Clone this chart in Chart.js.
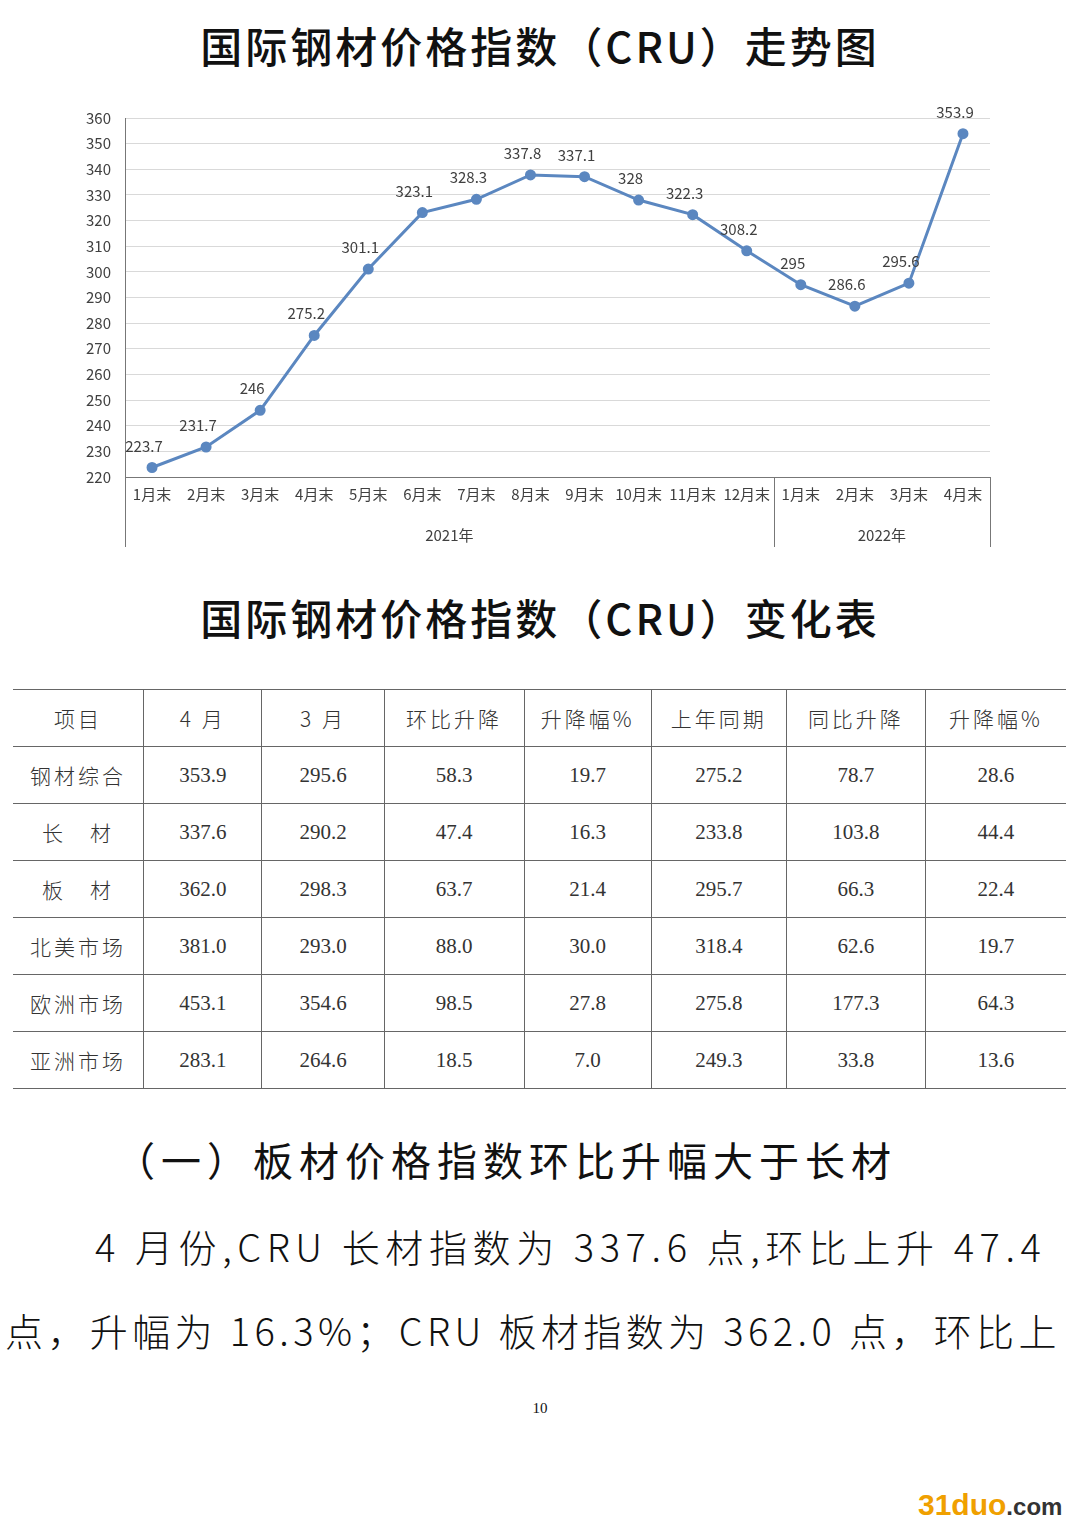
<!DOCTYPE html>
<html><head><meta charset="utf-8">
<script src="https://cdn.jsdelivr.net/npm/chart.js@4/dist/chart.umd.min.js"></script>
<style>
body{margin:0;width:1080px;height:1526px;background:#fff;position:relative;overflow:hidden;font-family:"Noto Sans CJK SC",sans-serif;color:#111}
.t{position:absolute;left:0;width:1080px;text-align:center;font-size:42px;font-weight:500;letter-spacing:3px}
#wrap{position:absolute;left:60px;top:95px;width:940px;height:460px}
table{position:absolute;left:13px;top:689px;width:1053px;border-collapse:collapse;font-size:21px;color:#333}
td{border:1.5px solid #666;height:56px;padding:0;text-align:center;font-family:"Liberation Serif","Noto Sans CJK SC",serif;font-weight:300}
td.c{font-family:"Noto Sans CJK SC";font-weight:300;letter-spacing:3px}
tr td:first-child{border-left:none}
tr td:last-child{border-right:none}
.p{position:absolute;font-size:38px;font-weight:300;white-space:nowrap;letter-spacing:5px}
</style></head><body>
<div class="t" style="top:14px">国际钢材价格指数（CRU）走势图</div>
<div id="wrap"><canvas id="c"></canvas></div>
<div class="t" style="top:586px">国际钢材价格指数（CRU）变化表</div>
<table id="tb"></table>
<div class="p" style="left:115px;top:1130px;font-weight:400;font-size:40px;letter-spacing:6px">（一）板材价格指数环比升幅大于长材</div>
<div class="p" style="left:95px;top:1218px;letter-spacing:5.6px">4 月份,CRU 长材指数为 337.6 点,环比上升 47.4</div>
<div class="p" style="left:5px;top:1302px;letter-spacing:4.4px">点，升幅为 16.3%；CRU 板材指数为 362.0 点，环比上</div>
<div style="position:absolute;left:0;width:1080px;top:1400px;text-align:center;font-size:15px;font-family:'Liberation Serif'">10</div>
<div style="position:absolute;left:918px;top:1488px;font:bold 30px 'Liberation Sans';color:#f0a000">31duo<span style="color:#333;font-size:24px">.com</span></div>
<script>
const months = ['1月末','2月末','3月末','4月末','5月末','6月末','7月末','8月末','9月末','10月末','11月末','12月末','1月末','2月末','3月末','4月末'];
const values = [223.7,231.7,246,275.2,301.1,323.1,328.3,337.8,337.1,328,322.3,308.2,295,286.6,295.6,353.9];
const years = [{label:'2021年',from:0,to:11},{label:'2022年',from:12,to:15}];
const yTicks = [220,360,10];

const headers = ['项目','4 月','3 月','环比升降','升降幅%','上年同期','同比升降','升降幅%'];
const rowNames = ['钢材综合','长　材','板　材','北美市场','欧洲市场','亚洲市场'];
const col4 = [353.9,337.6,362.0,381.0,453.1,283.1];
const col3 = [295.6,290.2,298.3,293.0,354.6,264.6];
const momChg = [58.3,47.4,63.7,88.0,98.5,18.5];
const momPct = [19.7,16.3,21.4,30.0,27.8,7.0];
const lastYear = [275.2,233.8,295.7,318.4,275.8,249.3];
const yoyChg = [78.7,103.8,66.3,62.6,177.3,33.8];
const yoyPct = [28.6,44.4,22.4,19.7,64.3,13.6];
const widths = [131,118,122,140,127,135,139,141];

const tb = document.getElementById('tb');
let h = '<tr>' + headers.map((x,i)=>`<td class="c" style="width:${widths[i]}px">${x}</td>`).join('') + '</tr>';
rowNames.forEach((n,i)=>{
  h += `<tr><td class="c">${n}</td>` + [col4,col3,momChg,momPct,lastYear,yoyChg,yoyPct].map(a=>`<td>${a[i].toFixed(1)}</td>`).join('') + '</tr>';
});
tb.innerHTML = h;

const labelPlugin = {
  id:'labels',
  afterDatasetsDraw(chart){
    const c = chart.ctx, meta = chart.getDatasetMeta(0);
    c.save();
    c.font = '15px "Noto Sans CJK SC"';
    c.fillStyle = '#404040';
    c.textAlign = 'center';
    meta.data.forEach((p,i)=>{ c.fillText(String(values[i]), p.x - 8, p.y - 16); });
    // year group axis
    const x = chart.scales.x, a = chart.chartArea;
    c.strokeStyle = '#777'; c.lineWidth = 1;
    const edges = [a.left, (x.getPixelForValue(11)+x.getPixelForValue(12))/2, a.right];
    edges.forEach(e=>{ c.beginPath(); c.moveTo(Math.round(e)+0.5, a.bottom); c.lineTo(Math.round(e)+0.5, a.bottom+70); c.stroke(); });
    years.forEach(y=>{
      const cx = (x.getPixelForValue(y.from)+x.getPixelForValue(y.to))/2;
      c.fillText(y.label, cx, a.bottom + 64);
    });
    c.restore();
  }
};

new Chart(document.getElementById('c'), {
  type:'line',
  data:{labels:months, datasets:[{data:values, borderColor:'#5b87c0', backgroundColor:'#5b87c0', borderWidth:3, pointRadius:4, tension:0}]},
  options:{
    responsive:true, maintainAspectRatio:false, animation:false,
    layout:{padding:{top:2,right:10}},
    plugins:{legend:{display:false}, tooltip:{enabled:false}},
    scales:{
      x:{offset:true, grid:{display:false, drawTicks:false}, border:{color:'#777'},
         ticks:{color:'#404040', font:{family:'Noto Sans CJK SC', size:15}, maxRotation:0, autoSkip:false, padding:8},
         afterFit(s){ s.height = 78; }},
      y:{min:yTicks[0], max:yTicks[1], grid:{color:'#d9d9d9', drawTicks:false}, border:{display:true,color:'#777'},
         ticks:{stepSize:yTicks[2], color:'#404040', font:{family:'Noto Sans CJK SC', size:15}, padding:14},
         afterFit(s){ s.width = 65; }}
    }
  },
  plugins:[labelPlugin]
});
</script>
</body></html>
